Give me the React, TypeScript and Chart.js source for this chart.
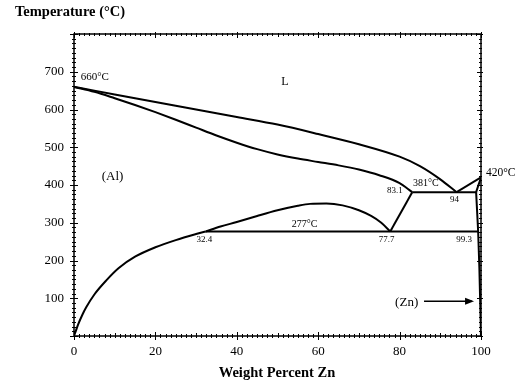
import React, { useEffect, useRef } from "react";
import { Chart, registerables } from "chart.js";

Chart.register(...registerables);

// ---- Data (weight percent Zn, temperature °C) ----
const liquidusAlWt = [0, 10, 20, 30, 40, 50, 60, 70, 80, 85, 90, 94];
const liquidusAlT = [660, 640, 620, 600, 580, 560, 535, 508, 475, 450, 415, 381];

const solidusAlWt = [0, 5, 10, 15, 20, 25, 30, 35, 40, 45, 50, 55, 60, 65, 70, 75, 80, 83.1];
const solidusAlT = [660, 647, 630, 612, 593, 573, 552, 531, 512, 495, 481, 470, 461, 452, 441, 426, 405, 381];

const solvusAlWt = [0, 0.5, 1, 2, 3, 5, 8, 11, 15, 20, 25, 30, 32.4];
const solvusAlT = [0, 15, 30, 55, 76, 110, 148, 180, 210, 235, 254, 270, 277];

const domeWt = [32.4, 36, 40, 45, 50, 55, 58, 62, 66, 70, 73, 75.5, 77.7];
const domeT = [277, 290, 302, 318, 333, 345, 350, 351, 346, 333, 318, 300, 277];

const monotectoidWt = [77.7, 83.1];
const monotectoidT = [277, 381];

const eutecticWt = [83.1, 98.8];
const eutecticT = [381, 381];

const eutectoidWt = [32.4, 99.3];
const eutectoidT = [277, 277];

const liquidusZnWt = [94, 100];
const liquidusZnT = [381, 420];

const solidusZnWt = [100, 98.8];
const solidusZnT = [420, 381];

const solvusZnWt = [98.8, 99.3, 99.6, 99.8, 100];
const solvusZnT = [381, 277, 180, 90, 0];

const arrowWt = [86, 97.8];
const arrowT = [92, 92];

const xTicks = [0, 20, 40, 60, 80, 100];
const yTicks = [100, 200, 300, 400, 500, 600, 700];

const labelTexts = ["660°C", "L", "(Al)", "381°C", "83.1", "94", "420°C", "277°C", "32.4", "77.7", "99.3", "(Zn)"];

// ---- Annotation placement (data coords) and styles ----
const labelPos: [number, number, CanvasTextAlign, number][] = [
  [1.65, 687, "left", 11],
  [51.8, 673, "center", 12],
  [6.8, 422, "left", 13],
  [83.3, 403, "left", 10],
  [80.8, 385, "right", 9],
  [92.4, 362, "left", 9],
  [101.2, 433, "left", 11.5],
  [53.5, 297, "left", 10],
  [30.1, 254, "left", 9],
  [74.9, 254, "left", 9],
  [93.9, 256, "left", 9],
  [78.9, 88, "left", 13],
];

const SERIF = "'Liberation Serif', 'Times New Roman', serif";

function zip(xs: number[], ys: number[]) {
  return xs.map((x, i) => ({ x, y: ys[i] }));
}

function line(xs: number[], ys: number[], curved: boolean) {
  return {
    data: zip(xs, ys),
    showLine: true,
    borderColor: "#000",
    borderWidth: 2,
    pointRadius: 0,
    fill: false,
    tension: curved ? 0.4 : 0,
    cubicInterpolationMode: curved ? ("monotone" as const) : ("default" as const),
  };
}

const decorPlugin = {
  id: "decor",
  afterDraw(chart: any) {
    const ctx = chart.ctx as CanvasRenderingContext2D;
    const { left, right, top, bottom } = chart.chartArea;
    const xs = chart.scales.x;
    const ys = chart.scales.y;
    ctx.save();
    ctx.strokeStyle = "#000";
    ctx.fillStyle = "#000";
    // frame
    ctx.lineWidth = 1.5;
    ctx.strokeRect(left, top, right - left, bottom - top);
    // ticks
    ctx.lineWidth = 1;
    ctx.beginPath();
    for (let i = 0; i <= 80; i++) {
      const v = i * 1.25;
      const px = Math.round(xs.getPixelForValue(v)) + 0.5;
      const major = v % 20 === 0;
      const mid = v % 10 === 0;
      const out = major ? 4 : 2;
      const inn = major ? 4 : mid ? 3 : 2;
      ctx.moveTo(px, bottom + out);
      ctx.lineTo(px, bottom - inn);
      ctx.moveTo(px, top - (major ? 2 : 1));
      ctx.lineTo(px, top + inn);
    }
    for (let i = 0; i <= 64; i++) {
      const v = i * 12.5;
      const py = Math.round(ys.getPixelForValue(v)) + 0.5;
      const major = v % 100 === 0;
      const out = major ? 4 : 2;
      const inn = major ? 4 : 2;
      ctx.moveTo(left - out, py);
      ctx.lineTo(left + inn, py);
      ctx.moveTo(right + (major ? 2 : 1), py);
      ctx.lineTo(right - inn, py);
    }
    ctx.stroke();

    // annotations
    ctx.textBaseline = "middle";
    labelTexts.forEach((t, i) => {
      const [wx, wy, align, size] = labelPos[i];
      ctx.font = `${size}px ${SERIF}`;
      ctx.textAlign = align;
      ctx.fillText(t, xs.getPixelForValue(wx), ys.getPixelForValue(wy));
    });

    // arrow head
    const ax = xs.getPixelForValue(arrowWt[1]);
    const ay = ys.getPixelForValue(arrowT[1]);
    ctx.beginPath();
    ctx.moveTo(ax + 2, ay);
    ctx.lineTo(ax - 7, ay - 3.5);
    ctx.lineTo(ax - 7, ay + 3.5);
    ctx.closePath();
    ctx.fill();

    // titles
    ctx.font = `bold 14.5px ${SERIF}`;
    ctx.textAlign = "left";
    ctx.fillText("Temperature (°C)", 15, 12);
    ctx.textAlign = "center";
    ctx.fillText("Weight Percent Zn", 277, 373);
    ctx.restore();
  },
};

export default function App() {
  const ref = useRef<HTMLCanvasElement>(null);
  useEffect(() => {
    if (!ref.current) return;
    const arrowLine = line(arrowWt, arrowT, false);
    arrowLine.borderWidth = 1.5;
    const chart = new Chart(ref.current, {
      type: "scatter",
      data: {
        datasets: [
          line(liquidusAlWt, liquidusAlT, true),
          line(solidusAlWt, solidusAlT, true),
          line(solvusAlWt, solvusAlT, true),
          line(domeWt, domeT, true),
          line(monotectoidWt, monotectoidT, false),
          line(eutecticWt, eutecticT, false),
          line(eutectoidWt, eutectoidT, false),
          line(liquidusZnWt, liquidusZnT, false),
          line(solidusZnWt, solidusZnT, false),
          line(solvusZnWt, solvusZnT, false),
          arrowLine,
        ] as any,
      },
      options: {
        animation: false,
        responsive: false,
        layout: { padding: { left: 0, right: 46, top: 34, bottom: 0 } },
        plugins: { legend: { display: false }, tooltip: { enabled: false } },
        scales: {
          x: {
            type: "linear",
            min: 0,
            max: 100,
            afterBuildTicks: (s: any) => {
              s.ticks = xTicks.map((v) => ({ value: v }));
            },
            afterFit: (s: any) => {
              s.height = 44;
            },
            ticks: { color: "#000", font: { family: SERIF, size: 13 }, padding: 8, maxRotation: 0 },
            grid: { display: false, drawTicks: false },
            border: { display: false },
          },
          y: {
            type: "linear",
            min: 0,
            max: 800,
            afterBuildTicks: (s: any) => {
              s.ticks = yTicks.map((v) => ({ value: v }));
            },
            afterFit: (s: any) => {
              s.width = 74;
            },
            ticks: { color: "#000", font: { family: SERIF, size: 13 }, padding: 10 },
            grid: { display: false, drawTicks: false },
            border: { display: false },
          },
        },
      },
      plugins: [decorPlugin],
    });
    return () => chart.destroy();
  }, []);
  return (
    <div style={{ position: "absolute", left: 0, top: 0, width: 527, height: 380, background: "#fff" }}>
      <canvas ref={ref} width={527} height={380} />
    </div>
  );
}
